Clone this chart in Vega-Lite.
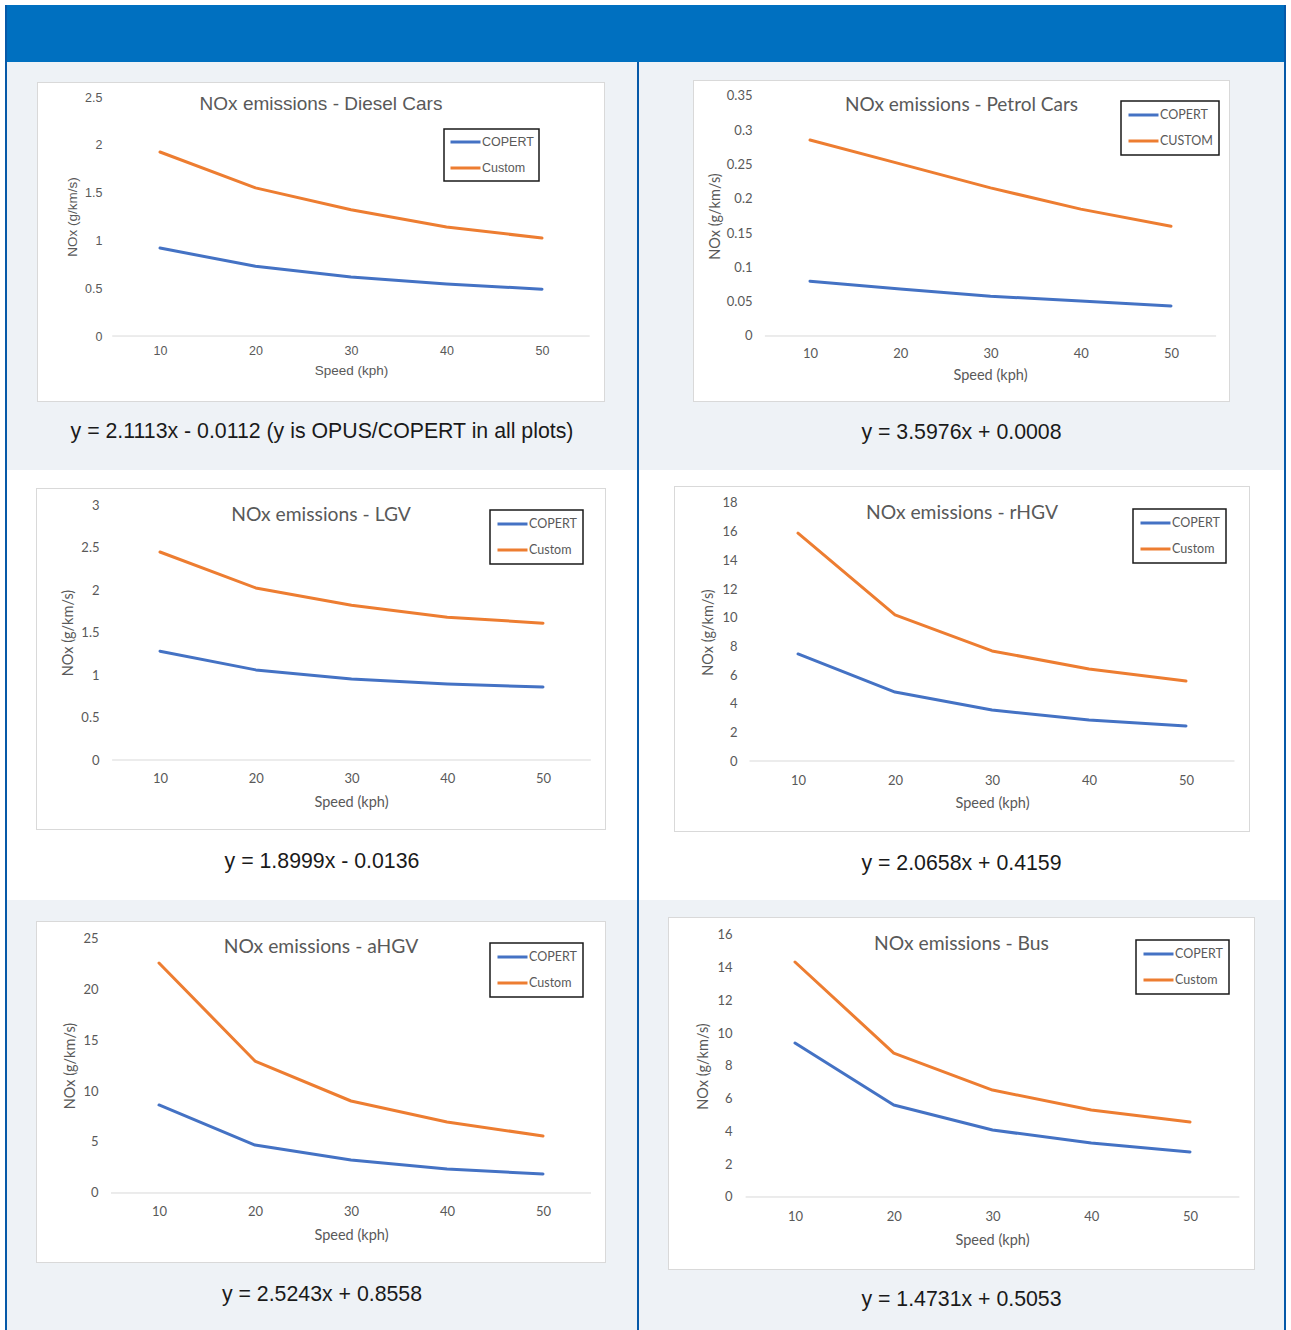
{
"$schema": "https://vega.github.io/schema/vega-lite/v6.json",
"background": "white",
"padding": {"left": 5, "top": 5, "right": 5, "bottom": 0},
"config": {
  "view": {"stroke": null},
  "axis": {"labelColor": "#595959", "titleColor": "#595959", "titleFontWeight": "normal", "grid": false, "ticks": false, "tickSize": 0, "domain": false, "labelPadding": 0, "format": "~g", "zindex": 1, "labelOverlap": false, "tickCount": 20},
  "legend": {"strokeColor": "#1a1a1a", "strokeWidth": 1.5, "fillColor": "white", "labelColor": "#595959", "symbolType": "stroke", "symbolStrokeWidth": 3, "symbolSize": 900, "padding": 6, "rowPadding": 10, "clipHeight": 16, "labelOffset": 0}
},
"spacing": 0,
"resolve": {"scale": {"color": "independent"}, "legend": {"color": "independent"}},
"hconcat": [
  {"data": {"values": []}, "mark": "rect", "width": 2, "height": 1325, "view": {"fill": "#0659A8", "stroke": null}},
  {"spacing": 0, "resolve": {"scale": {"color": "independent"}, "legend": {"color": "independent"}}, "vconcat": [
    {"data": {"values": []}, "mark": "rect", "width": 1277, "height": 57, "view": {"fill": "#0070C0", "stroke": null}},
    {"spacing": 0, "resolve": {"scale": {"color": "independent"}, "legend": {"color": "independent"}}, "hconcat": [
      {"spacing": 0, "resolve": {"scale": {"color": "independent"}, "legend": {"color": "independent"}}, "vconcat": [
        {"data": {"values": []}, "mark": "rect", "width": 630, "height": 20, "view": {"fill": "#EEF2F6", "stroke": null}},
        {"spacing": 0, "resolve": {"scale": {"color": "independent"}, "legend": {"color": "independent"}}, "hconcat": [
          {"data": {"values": []}, "mark": "rect", "width": 30, "height": 320, "view": {"fill": "#EEF2F6", "stroke": null}},
          {"width": 568, "height": 320,
           "view": {"fill": "white", "stroke": null},
           "layer": [
             {"data": {"values": [{}]}, "mark": {"type": "rect", "clip": true, "filled": false, "stroke": "#D9D9D9", "strokeWidth": 2}, "encoding": {}},
             {"data": {"values": [
               {"speed": 10, "nox": 0.92, "series": "COPERT"}, {"speed": 20, "nox": 0.73, "series": "COPERT"}, {"speed": 30, "nox": 0.617, "series": "COPERT"}, {"speed": 40, "nox": 0.544, "series": "COPERT"}, {"speed": 50, "nox": 0.49, "series": "COPERT"},
               {"speed": 10, "nox": 1.925, "series": "Custom"}, {"speed": 20, "nox": 1.55, "series": "Custom"}, {"speed": 30, "nox": 1.32, "series": "Custom"}, {"speed": 40, "nox": 1.14, "series": "Custom"}, {"speed": 50, "nox": 1.025, "series": "Custom"}]},
              "mark": {"type": "line", "strokeWidth": 3, "strokeCap": "round", "strokeJoin": "round"},
              "encoding": {
                "x": {"field": "speed", "type": "quantitative", "scale": {"domain": [-2.88, 56.597], "nice": false, "zero": false},
                      "axis": {"values": [10, 20, 30, 40, 50], "tickCount": 20, "title": "Speed (kph)", "labelFont": "Liberation Sans", "labelFontSize": 12.5, "titleFont": "Liberation Sans", "titleFontSize": 13.5, "labelBaseline": "middle", "offset": -52, "titleX": 314, "titleY": 20, "titleBaseline": "middle", "labelOverlap": false}},
                "y": {"field": "nox", "type": "quantitative", "scale": {"domain": [-0.69, 2.657], "nice": false, "zero": false},
                      "axis": {"values": [0, 0.5, 1, 1.5, 2, 2.5], "tickCount": 20, "title": "NOx (g/km/s)", "labelFont": "Liberation Sans", "labelFontSize": 12.5, "titleFont": "Liberation Sans", "titleFontSize": 13.5, "offset": -65, "titleX": -30, "titleY": 134.5, "titleBaseline": "middle", "labelOverlap": false}},
                "color": {"field": "series", "type": "nominal", "scale": {"domain": ["COPERT", "Custom"], "range": ["#4472C4", "#ED7D31"]},
                          "legend": {"title": null, "orient": "none", "legendX": 407, "legendY": 47, "labelFont": "Liberation Sans", "labelFontSize": 12.5, "padding": 5}}
              }},
             {"data": {"values": [{}]}, "mark": {"type": "rule", "color": "#D9D9D9", "strokeWidth": 1},
              "encoding": {"x": {"datum": 5, "type": "quantitative"}, "x2": {"datum": 55}, "y": {"datum": 0, "type": "quantitative"}}},
             {"data": {"values": [{"label": "NOx emissions - Diesel Cars"}]}, "mark": {"type": "text", "font": "Liberation Sans", "fontSize": 19, "color": "#595959", "baseline": "middle", "align": "center"},
              "encoding": {"x": {"datum": 26.86, "type": "quantitative"}, "y": {"datum": 2.427, "type": "quantitative"}, "text": {"field": "label"}}}
           ]},
          {"data": {"values": []}, "mark": "rect", "width": 32, "height": 320, "view": {"fill": "#EEF2F6", "stroke": null}}
        ]},
        {"data": {"values": [{"caption": "y = 2.1113x - 0.0112 (y is OPUS/COPERT in all plots)"}]}, "mark": {"type": "text", "font": "Liberation Sans", "fontSize": 21.3, "color": "#1a1a1a", "dy": -4}, "encoding": {"text": {"field": "caption"}}, "width": 630, "height": 68, "view": {"fill": "#EEF2F6", "stroke": null}}
      ]},
      {"data": {"values": []}, "mark": "rect", "width": 2, "height": 408, "view": {"fill": "#0659A8", "stroke": null}},
      {"spacing": 0, "resolve": {"scale": {"color": "independent"}, "legend": {"color": "independent"}}, "vconcat": [
        {"data": {"values": []}, "mark": "rect", "width": 645, "height": 18, "view": {"fill": "#EEF2F6", "stroke": null}},
        {"spacing": 0, "resolve": {"scale": {"color": "independent"}, "legend": {"color": "independent"}}, "hconcat": [
          {"data": {"values": []}, "mark": "rect", "width": 54, "height": 322, "view": {"fill": "#EEF2F6", "stroke": null}},
          {"width": 537, "height": 322,
           "view": {"fill": "white", "stroke": null},
           "layer": [
             {"data": {"values": [{}]}, "mark": {"type": "rect", "clip": true, "filled": false, "stroke": "#D9D9D9", "strokeWidth": 2}, "encoding": {}},
             {"data": {"values": [
               {"speed": 10, "nox": 0.08, "series": "COPERT"}, {"speed": 20, "nox": 0.0685, "series": "COPERT"}, {"speed": 30, "nox": 0.058, "series": "COPERT"}, {"speed": 40, "nox": 0.051, "series": "COPERT"}, {"speed": 50, "nox": 0.0437, "series": "COPERT"},
               {"speed": 10, "nox": 0.2857, "series": "CUSTOM"}, {"speed": 20, "nox": 0.251, "series": "CUSTOM"}, {"speed": 30, "nox": 0.216, "series": "CUSTOM"}, {"speed": 40, "nox": 0.185, "series": "CUSTOM"}, {"speed": 50, "nox": 0.16, "series": "CUSTOM"}]},
              "mark": {"type": "line", "strokeWidth": 3, "strokeCap": "round", "strokeJoin": "round"},
              "encoding": {
                "x": {"field": "speed", "type": "quantitative", "scale": {"domain": [-2.964, 56.537], "nice": false, "zero": false},
                      "axis": {"values": [10, 20, 30, 40, 50], "tickCount": 20, "title": "Speed (kph)", "labelFont": "Lato", "labelFontSize": 13, "titleFont": "Lato", "titleFontSize": 14.5, "labelBaseline": "middle", "offset": -49, "titleX": 297, "titleY": 22, "titleBaseline": "middle", "labelOverlap": false}},
                "y": {"field": "nox", "type": "quantitative", "scale": {"domain": [-0.09625, 0.3733], "nice": false, "zero": false},
                      "axis": {"values": [0, 0.05, 0.1, 0.15, 0.2, 0.25, 0.3, 0.35], "tickCount": 20, "title": "NOx (g/km/s)", "labelFont": "Lato", "labelFontSize": 13, "titleFont": "Lato", "titleFontSize": 14.5, "offset": -59, "titleX": -37, "titleY": 136, "titleBaseline": "middle", "labelOverlap": false}},
                "color": {"field": "series", "type": "nominal", "scale": {"domain": ["COPERT", "CUSTOM"], "range": ["#4472C4", "#ED7D31"]},
                          "legend": {"title": null, "orient": "none", "legendX": 428, "legendY": 21, "labelFont": "Lato", "labelFontSize": 12.5}}
              }},
             {"data": {"values": [{}]}, "mark": {"type": "rule", "color": "#D9D9D9", "strokeWidth": 1},
              "encoding": {"x": {"datum": 5, "type": "quantitative"}, "x2": {"datum": 55}, "y": {"datum": 0, "type": "quantitative"}}},
             {"data": {"values": [{"label": "NOx emissions - Petrol Cars"}]}, "mark": {"type": "text", "font": "Lato", "fontSize": 19, "color": "#595959", "baseline": "middle", "align": "center"},
              "encoding": {"x": {"datum": 26.79, "type": "quantitative"}, "y": {"datum": 0.3368, "type": "quantitative"}, "text": {"field": "label"}}}
           ]},
          {"data": {"values": []}, "mark": "rect", "width": 54, "height": 322, "view": {"fill": "#EEF2F6", "stroke": null}}
        ]},
        {"data": {"values": [{"caption": "y = 3.5976x + 0.0008"}]}, "mark": {"type": "text", "font": "Liberation Sans", "fontSize": 21.3, "color": "#1a1a1a", "dy": -3}, "encoding": {"text": {"field": "caption"}}, "width": 645, "height": 68, "view": {"fill": "#EEF2F6", "stroke": null}}
      ]}
    ]},
    {"spacing": 0, "resolve": {"scale": {"color": "independent"}, "legend": {"color": "independent"}}, "hconcat": [
      {"spacing": 0, "resolve": {"scale": {"color": "independent"}, "legend": {"color": "independent"}}, "vconcat": [
        {"data": {"values": []}, "mark": "rect", "width": 630, "height": 18, "view": {"fill": "#FFFFFF", "stroke": null}},
        {"spacing": 0, "resolve": {"scale": {"color": "independent"}, "legend": {"color": "independent"}}, "hconcat": [
          {"data": {"values": []}, "mark": "rect", "width": 29, "height": 342, "view": {"fill": "#FFFFFF", "stroke": null}},
          {"width": 570, "height": 342,
           "view": {"fill": "white", "stroke": null},
           "layer": [
             {"data": {"values": [{}]}, "mark": {"type": "rect", "clip": true, "filled": false, "stroke": "#D9D9D9", "strokeWidth": 2}, "encoding": {}},
             {"data": {"values": [
               {"speed": 10, "nox": 1.28, "series": "COPERT"}, {"speed": 20, "nox": 1.06, "series": "COPERT"}, {"speed": 30, "nox": 0.953, "series": "COPERT"}, {"speed": 40, "nox": 0.894, "series": "COPERT"}, {"speed": 50, "nox": 0.859, "series": "COPERT"},
               {"speed": 10, "nox": 2.447, "series": "Custom"}, {"speed": 20, "nox": 2.024, "series": "Custom"}, {"speed": 30, "nox": 1.82, "series": "Custom"}, {"speed": 40, "nox": 1.68, "series": "Custom"}, {"speed": 50, "nox": 1.61, "series": "Custom"}]},
              "mark": {"type": "line", "strokeWidth": 3, "strokeCap": "round", "strokeJoin": "round"},
              "encoding": {
                "x": {"field": "speed", "type": "quantitative", "scale": {"domain": [-2.95, 56.58], "nice": false, "zero": false},
                      "axis": {"values": [10, 20, 30, 40, 50], "tickCount": 20, "title": "Speed (kph)", "labelFont": "Lato", "labelFontSize": 13, "titleFont": "Lato", "titleFontSize": 14.5, "labelBaseline": "middle", "offset": -52, "titleX": 315, "titleY": 24, "titleBaseline": "middle", "labelOverlap": false}},
                "y": {"field": "nox", "type": "quantitative", "scale": {"domain": [-0.8235, 3.2], "nice": false, "zero": false},
                      "axis": {"values": [0, 0.5, 1, 1.5, 2, 2.5, 3], "tickCount": 20, "title": "NOx (g/km/s)", "labelFont": "Lato", "labelFontSize": 13, "titleFont": "Lato", "titleFontSize": 14.5, "offset": -63, "titleX": -31, "titleY": 144.5, "titleBaseline": "middle", "labelOverlap": false}},
                "color": {"field": "series", "type": "nominal", "scale": {"domain": ["COPERT", "Custom"], "range": ["#4472C4", "#ED7D31"]},
                          "legend": {"title": null, "orient": "none", "legendX": 454, "legendY": 22, "labelFont": "Lato", "labelFontSize": 12.5}}
              }},
             {"data": {"values": [{}]}, "mark": {"type": "rule", "color": "#D9D9D9", "strokeWidth": 1},
              "encoding": {"x": {"datum": 5, "type": "quantitative"}, "x2": {"datum": 55}, "y": {"datum": 0, "type": "quantitative"}}},
             {"data": {"values": [{"label": "NOx emissions - LGV"}]}, "mark": {"type": "text", "font": "Lato", "fontSize": 19.3, "color": "#595959", "baseline": "middle", "align": "center"},
              "encoding": {"x": {"datum": 26.815, "type": "quantitative"}, "y": {"datum": 2.882, "type": "quantitative"}, "text": {"field": "label"}}}
           ]},
          {"data": {"values": []}, "mark": "rect", "width": 31, "height": 342, "view": {"fill": "#FFFFFF", "stroke": null}}
        ]},
        {"data": {"values": [{"caption": "y = 1.8999x - 0.0136"}]}, "mark": {"type": "text", "font": "Liberation Sans", "fontSize": 21.3, "color": "#1a1a1a", "dy": -3}, "encoding": {"text": {"field": "caption"}}, "width": 630, "height": 70, "view": {"fill": "#FFFFFF", "stroke": null}}
      ]},
      {"data": {"values": []}, "mark": "rect", "width": 2, "height": 430, "view": {"fill": "#0659A8", "stroke": null}},
      {"spacing": 0, "resolve": {"scale": {"color": "independent"}, "legend": {"color": "independent"}}, "vconcat": [
        {"data": {"values": []}, "mark": "rect", "width": 645, "height": 16, "view": {"fill": "#FFFFFF", "stroke": null}},
        {"spacing": 0, "resolve": {"scale": {"color": "independent"}, "legend": {"color": "independent"}}, "hconcat": [
          {"data": {"values": []}, "mark": "rect", "width": 35, "height": 346, "view": {"fill": "#FFFFFF", "stroke": null}},
          {"width": 576, "height": 346,
           "view": {"fill": "white", "stroke": null},
           "layer": [
             {"data": {"values": [{}]}, "mark": {"type": "rect", "clip": true, "filled": false, "stroke": "#D9D9D9", "strokeWidth": 2}, "encoding": {}},
             {"data": {"values": [
               {"speed": 10, "nox": 7.47, "series": "COPERT"}, {"speed": 20, "nox": 4.81, "series": "COPERT"}, {"speed": 30, "nox": 3.56, "series": "COPERT"}, {"speed": 40, "nox": 2.86, "series": "COPERT"}, {"speed": 50, "nox": 2.44, "series": "COPERT"},
               {"speed": 10, "nox": 15.9, "series": "Custom"}, {"speed": 20, "nox": 10.19, "series": "Custom"}, {"speed": 30, "nox": 7.68, "series": "Custom"}, {"speed": 40, "nox": 6.42, "series": "Custom"}, {"speed": 50, "nox": 5.58, "series": "Custom"}]},
              "mark": {"type": "line", "strokeWidth": 3, "strokeCap": "round", "strokeJoin": "round"},
              "encoding": {
                "x": {"field": "speed", "type": "quantitative", "scale": {"domain": [-2.784, 56.598], "nice": false, "zero": false},
                      "axis": {"values": [10, 20, 30, 40, 50], "tickCount": 20, "title": "Speed (kph)", "labelFont": "Lato", "labelFontSize": 13, "titleFont": "Lato", "titleFontSize": 14.5, "labelBaseline": "middle", "offset": -52, "titleX": 318, "titleY": 23, "titleBaseline": "middle", "labelOverlap": false}},
                "y": {"field": "nox", "type": "quantitative", "scale": {"domain": [-4.953, 19.186], "nice": false, "zero": false},
                      "axis": {"values": [0, 2, 4, 6, 8, 10, 12, 14, 16, 18], "tickCount": 20, "title": "NOx (g/km/s)", "labelFont": "Lato", "labelFontSize": 13, "titleFont": "Lato", "titleFontSize": 14.5, "offset": -63, "titleX": -29, "titleY": 146, "titleBaseline": "middle", "labelOverlap": false}},
                "color": {"field": "series", "type": "nominal", "scale": {"domain": ["COPERT", "Custom"], "range": ["#4472C4", "#ED7D31"]},
                          "legend": {"title": null, "orient": "none", "legendX": 459, "legendY": 23, "labelFont": "Lato", "labelFontSize": 12.5}}
              }},
             {"data": {"values": [{}]}, "mark": {"type": "rule", "color": "#D9D9D9", "strokeWidth": 1},
              "encoding": {"x": {"datum": 5, "type": "quantitative"}, "x2": {"datum": 55}, "y": {"datum": 0, "type": "quantitative"}}},
             {"data": {"values": [{"label": "NOx emissions - rHGV"}]}, "mark": {"type": "text", "font": "Lato", "fontSize": 19.3, "color": "#595959", "baseline": "middle", "align": "center"},
              "encoding": {"x": {"datum": 26.907, "type": "quantitative"}, "y": {"datum": 17.302, "type": "quantitative"}, "text": {"field": "label"}}}
           ]},
          {"data": {"values": []}, "mark": "rect", "width": 34, "height": 346, "view": {"fill": "#FFFFFF", "stroke": null}}
        ]},
        {"data": {"values": [{"caption": "y = 2.0658x + 0.4159"}]}, "mark": {"type": "text", "font": "Liberation Sans", "fontSize": 21.3, "color": "#1a1a1a", "dy": -2}, "encoding": {"text": {"field": "caption"}}, "width": 645, "height": 68, "view": {"fill": "#FFFFFF", "stroke": null}}
      ]}
    ]},
    {"spacing": 0, "resolve": {"scale": {"color": "independent"}, "legend": {"color": "independent"}}, "hconcat": [
      {"spacing": 0, "resolve": {"scale": {"color": "independent"}, "legend": {"color": "independent"}}, "vconcat": [
        {"data": {"values": []}, "mark": "rect", "width": 630, "height": 21, "view": {"fill": "#EEF2F6", "stroke": null}},
        {"spacing": 0, "resolve": {"scale": {"color": "independent"}, "legend": {"color": "independent"}}, "hconcat": [
          {"data": {"values": []}, "mark": "rect", "width": 29, "height": 342, "view": {"fill": "#EEF2F6", "stroke": null}},
          {"width": 570, "height": 342,
           "view": {"fill": "white", "stroke": null},
           "layer": [
             {"data": {"values": [{}]}, "mark": {"type": "rect", "clip": true, "filled": false, "stroke": "#D9D9D9", "strokeWidth": 2}, "encoding": {}},
             {"data": {"values": [
               {"speed": 10, "nox": 8.63, "series": "COPERT"}, {"speed": 20, "nox": 4.7, "series": "COPERT"}, {"speed": 30, "nox": 3.24, "series": "COPERT"}, {"speed": 40, "nox": 2.35, "series": "COPERT"}, {"speed": 50, "nox": 1.86, "series": "COPERT"},
               {"speed": 10, "nox": 22.55, "series": "Custom"}, {"speed": 20, "nox": 12.94, "series": "Custom"}, {"speed": 30, "nox": 9.02, "series": "Custom"}, {"speed": 40, "nox": 6.96, "series": "Custom"}, {"speed": 50, "nox": 5.59, "series": "Custom"}]},
              "mark": {"type": "line", "strokeWidth": 3, "strokeCap": "round", "strokeJoin": "round"},
              "encoding": {
                "x": {"field": "speed", "type": "quantitative", "scale": {"domain": [-2.8125, 56.5625], "nice": false, "zero": false},
                      "axis": {"values": [10, 20, 30, 40, 50], "tickCount": 20, "title": "Speed (kph)", "labelFont": "Lato", "labelFontSize": 13, "titleFont": "Lato", "titleFontSize": 14.5, "labelBaseline": "middle", "offset": -52, "titleX": 315, "titleY": 24, "titleBaseline": "middle", "labelOverlap": false}},
                "y": {"field": "nox", "type": "quantitative", "scale": {"domain": [-6.863, 26.667], "nice": false, "zero": false},
                      "axis": {"values": [0, 5, 10, 15, 20, 25], "tickCount": 20, "title": "NOx (g/km/s)", "labelFont": "Lato", "labelFontSize": 13, "titleFont": "Lato", "titleFontSize": 14.5, "offset": -62, "titleX": -28, "titleY": 144.5, "titleBaseline": "middle", "labelOverlap": false}},
                "color": {"field": "series", "type": "nominal", "scale": {"domain": ["COPERT", "Custom"], "range": ["#4472C4", "#ED7D31"]},
                          "legend": {"title": null, "orient": "none", "legendX": 454, "legendY": 22, "labelFont": "Lato", "labelFontSize": 12.5}}
              }},
             {"data": {"values": [{}]}, "mark": {"type": "rule", "color": "#D9D9D9", "strokeWidth": 1},
              "encoding": {"x": {"datum": 5, "type": "quantitative"}, "x2": {"datum": 55}, "y": {"datum": 0, "type": "quantitative"}}},
             {"data": {"values": [{"label": "NOx emissions - aHGV"}]}, "mark": {"type": "text", "font": "Lato", "fontSize": 19.3, "color": "#595959", "baseline": "middle", "align": "center"},
              "encoding": {"x": {"datum": 26.875, "type": "quantitative"}, "y": {"datum": 24.118, "type": "quantitative"}, "text": {"field": "label"}}}
           ]},
          {"data": {"values": []}, "mark": "rect", "width": 31, "height": 342, "view": {"fill": "#EEF2F6", "stroke": null}}
        ]},
        {"data": {"values": [{"caption": "y = 2.5243x + 0.8558"}]}, "mark": {"type": "text", "font": "Liberation Sans", "fontSize": 21.3, "color": "#1a1a1a", "dy": -1.5}, "encoding": {"text": {"field": "caption"}}, "width": 630, "height": 67, "view": {"fill": "#EEF2F6", "stroke": null}}
      ]},
      {"data": {"values": []}, "mark": "rect", "width": 2, "height": 430, "view": {"fill": "#0659A8", "stroke": null}},
      {"spacing": 0, "resolve": {"scale": {"color": "independent"}, "legend": {"color": "independent"}}, "vconcat": [
        {"data": {"values": []}, "mark": "rect", "width": 645, "height": 17, "view": {"fill": "#EEF2F6", "stroke": null}},
        {"spacing": 0, "resolve": {"scale": {"color": "independent"}, "legend": {"color": "independent"}}, "hconcat": [
          {"data": {"values": []}, "mark": "rect", "width": 29, "height": 353, "view": {"fill": "#EEF2F6", "stroke": null}},
          {"width": 587, "height": 353,
           "view": {"fill": "white", "stroke": null},
           "layer": [
             {"data": {"values": [{}]}, "mark": {"type": "rect", "clip": true, "filled": false, "stroke": "#D9D9D9", "strokeWidth": 2}, "encoding": {}},
             {"data": {"values": [
               {"speed": 10, "nox": 9.4, "series": "COPERT"}, {"speed": 20, "nox": 5.62, "series": "COPERT"}, {"speed": 30, "nox": 4.09, "series": "COPERT"}, {"speed": 40, "nox": 3.3, "series": "COPERT"}, {"speed": 50, "nox": 2.75, "series": "COPERT"},
               {"speed": 10, "nox": 14.35, "series": "Custom"}, {"speed": 20, "nox": 8.79, "series": "Custom"}, {"speed": 30, "nox": 6.53, "series": "Custom"}, {"speed": 40, "nox": 5.31, "series": "Custom"}, {"speed": 50, "nox": 4.58, "series": "Custom"}]},
              "mark": {"type": "line", "strokeWidth": 3, "strokeCap": "round", "strokeJoin": "round"},
              "encoding": {
                "x": {"field": "speed", "type": "quantitative", "scale": {"domain": [-2.861, 56.582], "nice": false, "zero": false},
                      "axis": {"values": [10, 20, 30, 40, 50], "tickCount": 20, "title": "Speed (kph)", "labelFont": "Lato", "labelFontSize": 13, "titleFont": "Lato", "titleFontSize": 14.5, "labelBaseline": "middle", "offset": -54, "titleX": 324, "titleY": 24, "titleBaseline": "middle", "labelOverlap": false}},
                "y": {"field": "nox", "type": "quantitative", "scale": {"domain": [-4.458, 17.099], "nice": false, "zero": false},
                      "axis": {"values": [0, 2, 4, 6, 8, 10, 12, 14, 16], "tickCount": 20, "title": "NOx (g/km/s)", "labelFont": "Lato", "labelFontSize": 13, "titleFont": "Lato", "titleFontSize": 14.5, "offset": -64, "titleX": -29, "titleY": 149, "titleBaseline": "middle", "labelOverlap": false}},
                "color": {"field": "series", "type": "nominal", "scale": {"domain": ["COPERT", "Custom"], "range": ["#4472C4", "#ED7D31"]},
                          "legend": {"title": null, "orient": "none", "legendX": 468, "legendY": 23, "labelFont": "Lato", "labelFontSize": 12.5}}
              }},
             {"data": {"values": [{}]}, "mark": {"type": "rule", "color": "#D9D9D9", "strokeWidth": 1},
              "encoding": {"x": {"datum": 5, "type": "quantitative"}, "x2": {"datum": 55}, "y": {"datum": 0, "type": "quantitative"}}},
             {"data": {"values": [{"label": "NOx emissions - Bus"}]}, "mark": {"type": "text", "font": "Lato", "fontSize": 19.3, "color": "#595959", "baseline": "middle", "align": "center"},
              "encoding": {"x": {"datum": 26.86, "type": "quantitative"}, "y": {"datum": 15.45, "type": "quantitative"}, "text": {"field": "label"}}}
           ]},
          {"data": {"values": []}, "mark": "rect", "width": 29, "height": 353, "view": {"fill": "#EEF2F6", "stroke": null}}
        ]},
        {"data": {"values": [{"caption": "y = 1.4731x + 0.5053"}]}, "mark": {"type": "text", "font": "Liberation Sans", "fontSize": 21.3, "color": "#1a1a1a", "dy": 0}, "encoding": {"text": {"field": "caption"}}, "width": 645, "height": 60, "view": {"fill": "#EEF2F6", "stroke": null}}
      ]}
    ]}
  ]},
  {"data": {"values": []}, "mark": "rect", "width": 2, "height": 1325, "view": {"fill": "#0659A8", "stroke": null}}
]
}
